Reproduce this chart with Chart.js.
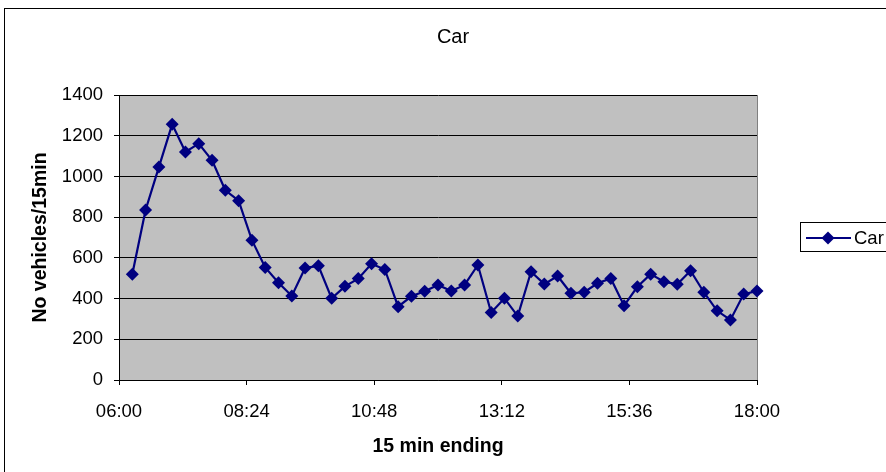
<!DOCTYPE html>
<html>
<head>
<meta charset="utf-8">
<title>Car</title>
<script src="https://cdn.jsdelivr.net/npm/chart.js@4/dist/chart.umd.min.js"></script>
<style>
  body { margin: 0; background: #fff; }
  canvas { display: block; }
</style>
</head>
<body>
<canvas id="carChart" width="886" height="472"></canvas>
<script>
// 15 min ending times
const times = [
  '06:15', '06:30', '06:45', '07:00', '07:15', '07:30', '07:45', '08:00',
  '08:15', '08:30', '08:45', '09:00', '09:15', '09:30', '09:45', '10:00',
  '10:15', '10:30', '10:45', '11:00', '11:15', '11:30', '11:45', '12:00',
  '12:15', '12:30', '12:45', '13:00', '13:15', '13:30', '13:45', '14:00',
  '14:15', '14:30', '14:45', '15:00', '15:15', '15:30', '15:45', '16:00',
  '16:15', '16:30', '16:45', '17:00', '17:15', '17:30', '17:45', '18:00'
];
const carCounts = [
  519, 835, 1046, 1256, 1120, 1161, 1079, 932, 881, 687,
  553, 478, 413, 550, 561, 401, 460, 498, 571, 543,
  360, 411, 436, 467, 437, 467, 565, 331, 401, 314,
  532, 471, 511, 426, 431, 475, 499, 365, 458, 520,
  483, 470, 537, 431, 340, 295, 422, 437
];
const xTickStart = '06:00';
const xTickEnd = '18:00';
const xTickStep = 144; // minutes between labels (2h24)
const yMax = 1400;
const yStep = 200;

const FONT = '"Liberation Sans", Arial, sans-serif';
const NAVY = '#000080';

function toMinutes(t) {
  const [h, m] = t.split(':').map(Number);
  return h * 60 + m;
}
function toClock(min) {
  const h = Math.floor(min / 60);
  const m = Math.round(min % 60);
  return String(h).padStart(2, '0') + ':' + String(m).padStart(2, '0');
}

const points = times.map((t, i) => ({ x: toMinutes(t), y: carCounts[i] }));

// grey plot area, outer frame and the legend box, drawn Excel style
const excelFrame = {
  id: 'excelFrame',
  beforeDraw(chart) {
    const { ctx, chartArea: a } = chart;
    ctx.save();
    ctx.fillStyle = '#fff';
    ctx.fillRect(0, 0, chart.width, chart.height);
    ctx.fillStyle = '#c0c0c0';
    ctx.fillRect(a.left, a.top, a.right - a.left, a.bottom - a.top);
    ctx.strokeStyle = '#000';
    ctx.lineWidth = 1;
    ctx.strokeRect(4.5, 8.5, chart.width, chart.height);
    ctx.restore();
  },
  beforeDatasetsDraw(chart) {
    const { ctx, chartArea: a } = chart;
    ctx.save();
    ctx.strokeStyle = '#808080';
    ctx.lineWidth = 1;
    ctx.beginPath();
    ctx.moveTo(Math.round(a.right) + 0.5, a.top);
    ctx.lineTo(Math.round(a.right) + 0.5, a.bottom);
    ctx.stroke();
    ctx.restore();
  },
  afterDraw(chart) {
    const ctx = chart.ctx;
    ctx.save();
    ctx.strokeStyle = '#000';
    ctx.lineWidth = 1;
    ctx.strokeRect(800.5, 222.5, 120, 29);
    ctx.strokeStyle = NAVY;
    ctx.lineWidth = 2;
    ctx.beginPath();
    ctx.moveTo(806, 238);
    ctx.lineTo(851, 238);
    ctx.stroke();
    ctx.fillStyle = NAVY;
    ctx.beginPath();
    ctx.moveTo(828, 231.5);
    ctx.lineTo(834.5, 238);
    ctx.lineTo(828, 244.5);
    ctx.lineTo(821.5, 238);
    ctx.closePath();
    ctx.fill();
    ctx.fillStyle = '#000';
    ctx.font = '18.5px ' + FONT;
    ctx.textBaseline = 'middle';
    ctx.fillText('Car', 854, 239);
    ctx.restore();
  }
};

const ctx = document.getElementById('carChart').getContext('2d');
new Chart(ctx, {
  type: 'line',
  data: {
    datasets: [{
      label: 'Car',
      data: points,
      borderColor: NAVY,
      backgroundColor: NAVY,
      borderWidth: 2.2,
      pointStyle: 'rectRot',
      pointRadius: 6.5,
      pointHoverRadius: 6.5,
      pointBorderWidth: 0,
      tension: 0,
      clip: false
    }]
  },
  options: {
    responsive: false,
    animation: false,
    layout: { padding: { left: 20, top: 0, right: 0, bottom: 0 } },
    plugins: {
      legend: { display: false },
      tooltip: { enabled: false },
      title: {
        display: true,
        text: 'Car',
        color: '#000',
        font: { family: FONT, size: 20, weight: 'normal', lineHeight: 1.2 },
        padding: { top: 25.5, bottom: 45.5 }
      }
    },
    scales: {
      x: {
        type: 'linear',
        min: toMinutes(xTickStart),
        max: toMinutes(xTickEnd),
        afterFit(scale) { scale.height = 92; },
        ticks: {
          stepSize: xTickStep,
          color: '#000',
          font: { family: FONT, size: 18.5 },
          padding: 15.4,
          maxRotation: 0,
          callback: v => toClock(v)
        },
        grid: {
          drawOnChartArea: false,
          drawTicks: true,
          tickLength: 5,
          color: '#000'
        },
        border: { display: true, color: '#000', width: 1 },
        title: {
          display: true,
          text: '15 min ending',
          color: '#000',
          font: { family: FONT, size: 19.5, weight: 'bold', lineHeight: 1.2 },
          padding: { top: 0, bottom: 13.3 }
        }
      },
      y: {
        min: 0,
        max: yMax,
        afterFit(scale) { scale.width = 99; },
        ticks: {
          stepSize: yStep,
          color: '#000',
          font: { family: FONT, size: 18.5 },
          padding: 11,
          callback: v => String(v)
        },
        grid: {
          color: '#000',
          lineWidth: 1,
          drawTicks: true,
          tickLength: 5
        },
        border: { display: true, color: '#000', width: 1 },
        title: {
          display: true,
          text: 'No vehicles/15min',
          color: '#000',
          font: { family: FONT, size: 19.5, weight: 'bold', lineHeight: 1.2 },
          padding: { top: 9.3, bottom: 0 }
        }
      },
      // empty spacer on the right that leaves room for the legend box
      spacer: {
        type: 'linear',
        position: 'right',
        min: 0,
        max: 1,
        afterFit(scale) { scale.width = 129; },
        ticks: { display: false },
        grid: { display: false },
        border: { display: false }
      }
    }
  },
  plugins: [excelFrame]
});
</script>
</body>
</html>
